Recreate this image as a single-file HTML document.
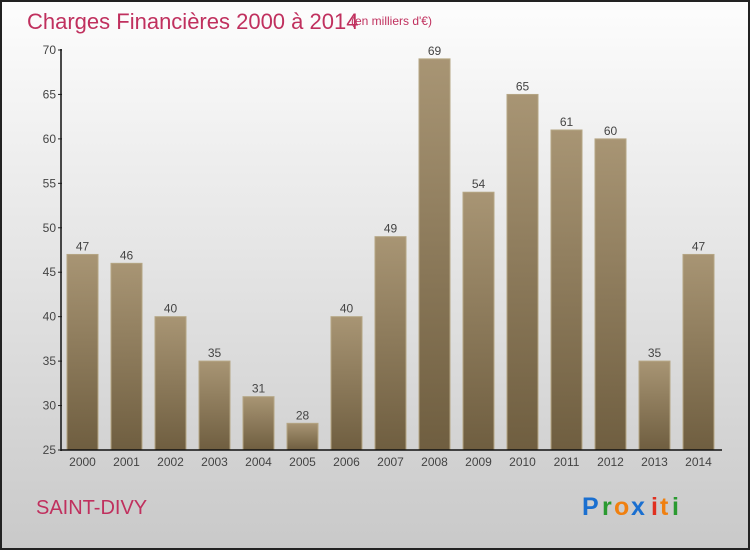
<!DOCTYPE html>
<html><head><meta charset="utf-8"><style>
body{margin:0;width:750px;height:550px;overflow:hidden;font-family:"Liberation Sans",sans-serif}
</style></head><body>
<svg width="750" height="550">
<defs>
<linearGradient id="bg" x1="0" y1="0" x2="0" y2="1"><stop offset="0" stop-color="#fdfdfd"/><stop offset="1" stop-color="#c9c9c9"/></linearGradient>
<linearGradient id="bar" x1="0" y1="0" x2="0" y2="1"><stop offset="0" stop-color="#a89574"/><stop offset="1" stop-color="#6f5e40"/></linearGradient>
</defs>
<rect x="1" y="1" width="748" height="548" fill="url(#bg)" stroke="#222" stroke-width="2"/>
<text x="27" y="29" font-size="22" fill="#c0305e">Charges Financières 2000 à 2014</text>
<text x="351" y="25" font-size="12" fill="#c0305e">(en milliers d'€)</text>
<text x="36" y="514" font-size="20" fill="#c0305e">SAINT-DIVY</text>
<g font-size="25" font-weight="bold">
<text x="582" y="515" fill="#1a6fd0">P</text><text x="602" y="515" fill="#2a9a30">r</text><text x="614" y="515" fill="#f08010">o</text><text x="631" y="515" fill="#1a6fd0">x</text><text x="651" y="515" fill="#e03020">i</text><text x="660" y="515" fill="#f08010">t</text><text x="672" y="515" fill="#2a9a30">i</text>
</g>
<g id="plot"></g>
</svg>
<script>
const categories=["2000","2001","2002","2003","2004","2005","2006","2007","2008","2009","2010","2011","2012","2013","2014"];
const values=[47,46,40,35,31,28,40,49,69,54,65,61,60,35,47];
const yTicks=[25,30,35,40,45,50,55,60,65,70];
const NS="http://www.w3.org/2000/svg";
const g=document.getElementById('plot');
const y=v=>450-(v-25)*400/45;
const x=i=>67+i*44;
function mk(t,a){const e=document.createElementNS(NS,t);for(const k in a)e.setAttribute(k,a[k]);g.appendChild(e);return e;}
values.forEach((v,i)=>{
 const r=mk('rect',{x:x(i),y:y(v),width:31,height:450-y(v),fill:'url(#bar)',stroke:'#b5a684','stroke-width':1});
 
 
 const t=mk('text',{x:x(i)+15.5,y:y(v)-4,'text-anchor':'middle','font-size':12,fill:'#444'});
 t.textContent=v;
 
 
 const c=mk('text',{x:x(i)+15.5,y:466,'text-anchor':'middle','font-size':12,fill:'#444'});
 c.textContent=categories[i];
 
 
});
yTicks.forEach(v=>{
 const l=mk('line',{x1:58,x2:62,y1:y(v),y2:y(v),stroke:'#222'});
 
 
 const t=mk('text',{x:56,y:y(v)+4,'text-anchor':'end','font-size':12,fill:'#444'});
 t.textContent=v;
 
 
});
const ya=mk('line',{x1:61,x2:61,y1:49,y2:451,stroke:'#111','stroke-width':1.5});


const xa=mk('line',{x1:61,x2:722,y1:450,y2:450,stroke:'#111','stroke-width':1.5});


</script>
</body></html>
